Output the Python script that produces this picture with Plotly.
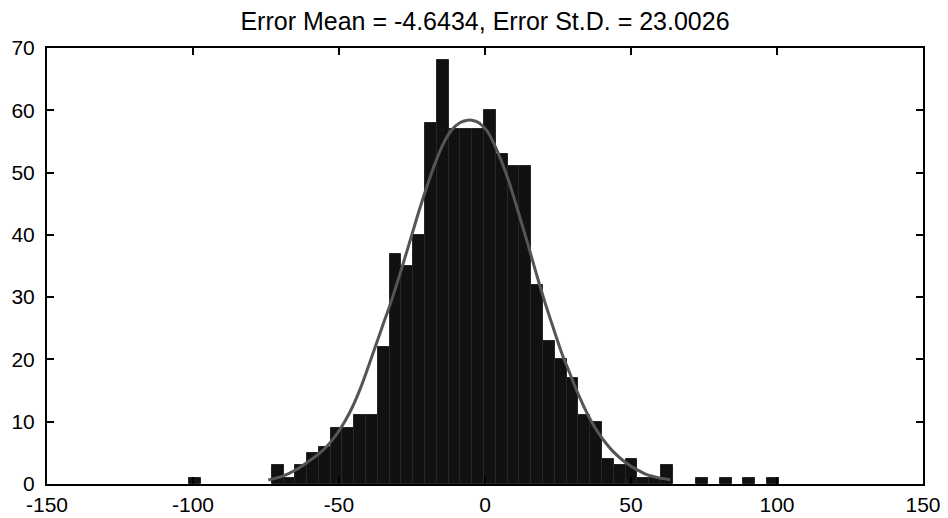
import numpy as np
import plotly.graph_objects as go

# Histogram: 50 bins spanning the error range
bin_first_center = -99.3
bin_width = 4.039
counts = [1, 0, 0, 0, 0, 0, 0, 3, 1, 3,
          5, 6, 9, 9, 11, 11, 22, 37, 35, 40,
          58, 68, 57, 57, 57, 60, 53, 51, 51, 32,
          23, 20, 17, 11, 10, 4, 3, 4, 1, 1,
          3, 0, 0, 1, 0, 1, 0, 1, 0, 1]
centers = bin_first_center + bin_width * np.arange(len(counts))

# Fitted curve, points
curve_x = [-74.2, -69.1, -65.0, -60.5, -56.0, -53.1, -49.5, -46.2, -42.8, -38.2,
           -35.0, -32.5, -29.0, -25.7, -22.5, -20.0, -17.0, -14.3, -11.5, -8.6,
           -6.0, -4.6, -2.5, -1.1, 1.0, 3.4, 5.5, 8.0, 11.0, 14.8,
           17.5, 20.5, 23.5, 26.3, 29.1, 30.8, 33.7, 36.5, 39.4, 41.5,
           43.9, 48.0, 52.0, 55.0, 57.6, 60.5, 63.4]
curve_y = [0.64, 1.3, 2.2, 3.6, 5.2, 6.6, 8.9, 11.6, 15.2, 21.2,
           25.5, 28.8, 33.9, 39.0, 44.0, 47.6, 51.6, 54.6, 56.8, 58.0,
           58.4, 58.4, 58.1, 57.6, 56.5, 54.3, 52.0, 48.8, 44.3, 38.3,
           33.9, 29.2, 24.9, 21.0, 17.7, 15.7, 12.6, 10.0, 7.8, 6.5,
           5.2, 3.5, 2.3, 1.6, 1.2, 0.9, 0.7]

title_text = "Error Mean = -4.6434, Error St.D. = 23.0026"
x_ticks = [-150, -100, -50, 0, 50, 100, 150]
y_ticks = [0, 10, 20, 30, 40, 50, 60, 70]

bar_heights = [c if c > 0 else None for c in counts]

fig = go.Figure()
fig.add_trace(go.Bar(
    x=centers, y=bar_heights, width=bin_width,
    marker=dict(color="#111111", line=dict(color="#262626", width=1)),
    showlegend=False, hoverinfo="x+y"))
fig.add_trace(go.Scatter(
    x=curve_x, y=curve_y, mode="lines",
    line=dict(color="#555555", width=3, shape="spline"),
    showlegend=False))

font_family = "Liberation Sans, Arial, Helvetica, sans-serif"
axis_common = dict(
    showline=True, linecolor="black", linewidth=2, mirror="ticks",
    ticks="inside", ticklen=7, tickwidth=2, tickcolor="black",
    showgrid=False, zeroline=False, automargin=False,
    tickfont=dict(family=font_family, size=21, color="black"))

fig.update_layout(
    width=948, height=518,
    margin=dict(l=47, r=25, t=48, b=34),
    paper_bgcolor="white", plot_bgcolor="white",
    bargap=0,
    title=dict(text=title_text, x=(47 + 923) / 2 / 948, xanchor="center",
               y=1 - 21 / 518, yanchor="middle",
               font=dict(family=font_family, size=25, color="black")),
    xaxis=dict(range=[-150, 150], tickvals=x_ticks,
               ticktext=[str(v) for v in x_ticks], ticklabelstandoff=1,
               **axis_common),
    yaxis=dict(range=[0, 70], tickvals=y_ticks,
               ticktext=[str(v) for v in y_ticks], ticklabelstandoff=6,
               **axis_common),
)

fig.write_html("out.html")
